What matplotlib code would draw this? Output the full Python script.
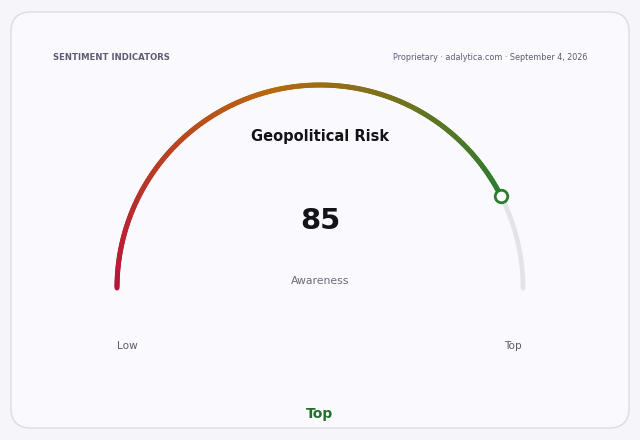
import numpy as np
import matplotlib
matplotlib.use("Agg")
import matplotlib.pyplot as plt
from matplotlib.collections import LineCollection
from matplotlib.colors import LinearSegmentedColormap
from matplotlib.patches import FancyBboxPatch

# data
gauge_title = "Geopolitical Risk"
gauge_value = 85
gauge_min, gauge_max = 0, 100
gauge_unit = "Awareness"
end_labels = ["Low", "Top"]
status_label = "Top"
header_left = "SENTIMENT INDICATORS"
header_right = "Proprietary · adalytica.com · September 4, 2026"

# gradient colors along the filled part of the arc
grad_colors = ["#b8143a", "#b8680f", "#2a7d30"]

fig = plt.figure(figsize=(6.4, 4.4), dpi=100)
fig.patch.set_facecolor("#f5f5fa")
ax = fig.add_axes([0, 0, 1, 1])
ax.set_xlim(0, 640)
ax.set_ylim(440, 0)
ax.axis("off")

# card
card = FancyBboxPatch((11, 12), 618, 416, boxstyle="round,pad=0,rounding_size=20",
                      facecolor="#fafafe", edgecolor="#dcdce6", linewidth=1.0)
ax.add_patch(card)

ax.text(53, 58, header_left, fontsize=6.15, fontweight="bold", color="#5c5c70",
        ha="left", va="center")
ax.text(587, 58, header_right, fontsize=5.75, color="#5c5c70", ha="right", va="center")

# gauge geometry (pixel space, y down)
cx, cy, r = 320, 288, 203

def ang(v):
    frac = (v - gauge_min) / (gauge_max - gauge_min)
    return np.pi * (1 - frac)

# background track
t = np.linspace(ang(gauge_value), 0, 100)
ax.plot(cx + r * np.cos(t), cy - r * np.sin(t), color="#e3e3e8", lw=3.4,
        solid_capstyle="round", zorder=2)

# filled arc with gradient
t = np.linspace(np.pi, ang(gauge_value), 300)
xs = cx + r * np.cos(t)
ys = cy - r * np.sin(t)
pts = np.column_stack([xs, ys]).reshape(-1, 1, 2)
segs = np.concatenate([pts[:-1], pts[1:]], axis=1)
cmap = LinearSegmentedColormap.from_list("g", grad_colors)
lc = LineCollection(segs, colors=cmap(np.linspace(0, 1, len(segs))), linewidths=3.6,
                    capstyle="round", zorder=3)
ax.add_collection(lc)

# marker at value
a = ang(gauge_value)
ax.plot(cx + r * np.cos(a), cy - r * np.sin(a), "o", ms=9, mfc="white",
        mec="#2a7d30", mew=2, zorder=4)

ax.text(cx, 137, gauge_title, fontsize=10.5, fontweight="bold", color="#141418",
        ha="center", va="center")
ax.text(cx, 221, f"{gauge_value}", fontsize=21, fontweight="bold", color="#141418",
        ha="center", va="center")
ax.text(cx, 281, gauge_unit, fontsize=7.8, color="#6a6a78", ha="center", va="center")

ax.text(cx - r + 10, 346, end_labels[0], fontsize=7.6, color="#5c5c68",
        ha="center", va="center")
ax.text(cx + r - 10, 346, end_labels[1], fontsize=7.6, color="#5c5c68",
        ha="center", va="center")

ax.text(cx, 414, status_label, fontsize=10, fontweight="bold", color="#22702c",
        ha="center", va="center")

plt.savefig("out.png", dpi=100, facecolor=fig.get_facecolor())
plt.close()
